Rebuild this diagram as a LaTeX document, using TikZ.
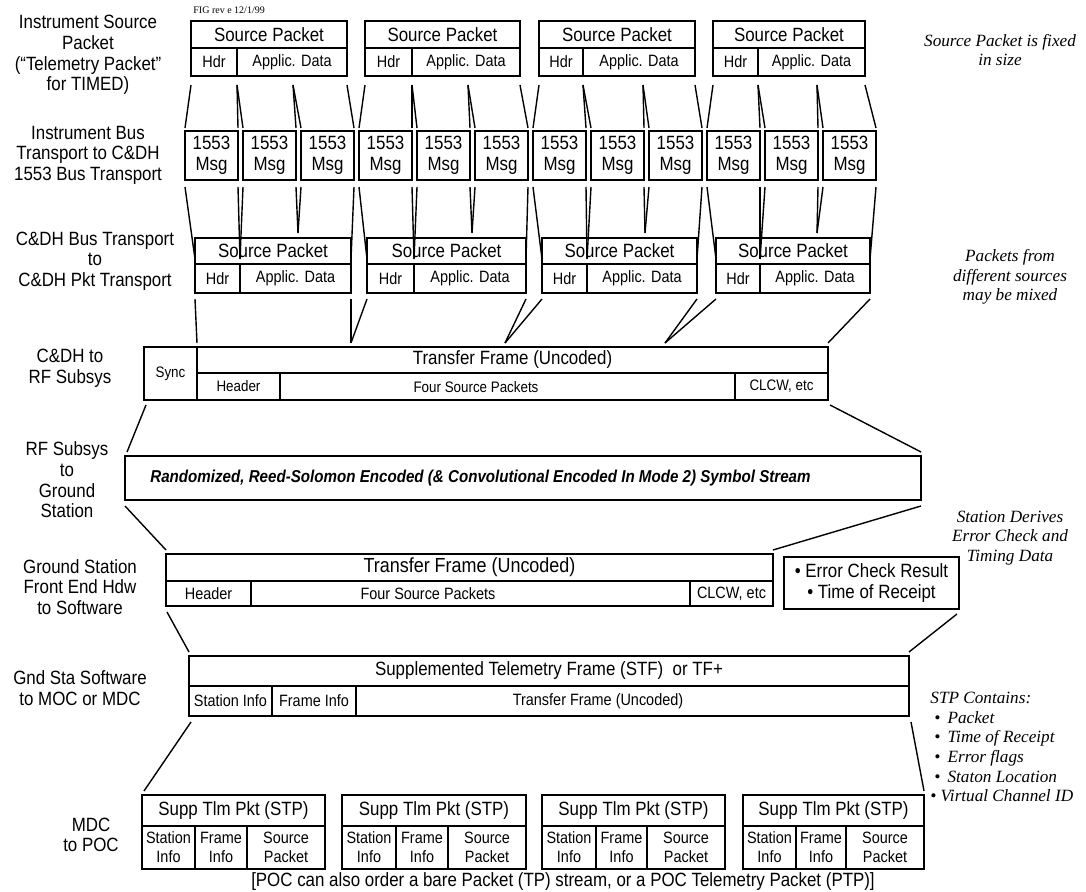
\documentclass[tikz,border=0pt]{standalone}
\usepackage{fontspec}
\setmainfont{Liberation Sans}[FakeStretch=0.88]
\newfontfamily\notefont{Liberation Serif}
\usetikzlibrary{calc}
\newcommand\szA{\fontsize{9.6}{10.3}\selectfont}
\newcommand\szAB{\fontsize{10.2}{11}\selectfont}
\newcommand\szB{\fontsize{8.2}{9.5}\selectfont}
\newcommand\szC{\fontsize{7.6}{8.5}\selectfont}
\newcommand\szS{\fontsize{8.6}{9.5}\selectfont\bfseries\itshape}
\newcommand\szN{\fontsize{8.6}{9.8}\selectfont\notefont\itshape}
\newcommand\mkcell[7][]{%
  \pgfmathsetmacro\cw{(#5-#3)*0.5}%
  \pgfmathsetmacro\ch{(#6-#4)*0.5}%
  \node[box,minimum width=\cw pt,minimum height=\ch pt,#1] (#2) at ({(#3+#5)/2},{(#4+#6)/2}) {#7};}
\begin{document}
\begin{tikzpicture}[x=0.5pt,y=-0.5pt,
  box/.style={draw,line width=0.8pt,inner sep=0pt,outer sep=0pt,align=center},
  lnk/.style={line width=0.7pt},
  lab/.style={align=center,inner sep=0pt,font=\szA},
  txt/.style={inner sep=0pt},
  note/.style={align=center,inner sep=0pt,font=\szN}]
\useasboundingbox (0,0) rectangle (1086,892);

% ---------- left labels ----------
\node[lab] (l1) at (88,55) {Instrument Source\\Packet\\(“Telemetry Packet”\\for TIMED)};
\node[lab] (l2) at (88,155) {Instrument Bus\\Transport to C\&DH\\1553 Bus Transport};
\node[lab] (l3) at (95,261) {C\&DH Bus Transport\\to\\C\&DH Pkt Transport};
\node[lab] (l4) at (70,368) {C\&DH to\\RF Subsys};
\node[lab] (l5) at (67,480) {RF Subsys\\to\\Ground\\Station};
\node[lab] (l6) at (80,587) {Ground Station\\Front End Hdw\\to Software};
\node[lab] (l7) at (80,688) {Gnd Sta Software\\to MOC or MDC};
\node[lab] (l8) at (91,835) {MDC\\to POC};

% ---------- right notes ----------
\node[note] (n1) at (1000,50) {Source Packet is fixed\\in size};
\node[note] (n2) at (1010,277) {Packets from\\different sources\\may be mixed};
\node[note] (n3) at (1010,538) {Station Derives\\Error Check and\\Timing Data};
\node[note,align=left,anchor=north west] (n4) at (930,692)
  {STP Contains:\\\hspace*{2pt}• \,Packet\\\hspace*{2pt}• \,Time of Receipt\\\hspace*{2pt}• \,Error flags\\\hspace*{2pt}• \,Staton Location\\• Virtual Channel ID};
\node[anchor=base west,inner sep=0pt] (fig) at (193,14) {\fontsize{5}{5}\selectfont\notefont FIG rev e 12/1/99};

% ---------- row 1: source packets ----------
\foreach \a/\b/\d/\s [count=\j from 0] in {191/347/237/293, 365/520/412/468, 539/695/583/643, 713/865/758/817}{
  \mkcell{pA\j}{\a}{21}{\b}{48}{\szA Source Packet}
  \mkcell{pAh\j}{\a}{48}{\d}{76}{\szB Hdr}
  \mkcell{pAd\j}{\d}{48}{\b}{76}{\szB Applic. Data}
  \coordinate (pAs\j) at (\s,76);
}

% ---------- row 2: 1553 messages ----------
\foreach \k in {0,...,11}{
  \pgfmathsetmacro\mL{185+58*\k}
  \pgfmathsetmacro\mR{238+58*\k}
  \mkcell[font=\szA]{m\k}{\mL}{131}{\mR}{180}{1553\\Msg}
}

% ---------- row 3: source packets ----------
\foreach \a/\b/\d/\s [count=\j from 0] in {195/351/240/298, 367/526/414/472, 542/697/587/645, 716/870/760/817}{
  \mkcell{pC\j}{\a}{238}{\b}{264}{\szA Source Packet}
  \mkcell{pCh\j}{\a}{264}{\d}{293}{\szB Hdr}
  \mkcell{pCd\j}{\d}{264}{\b}{293}{\szB Applic. Data}
  \coordinate (pCs\j) at (\s,238);
}

% connectors rows 1-2-3
\foreach \j in {0,...,3}{
  \pgfmathtruncatemacro\ka{3*\j}
  \pgfmathtruncatemacro\kb{3*\j+1}
  \pgfmathtruncatemacro\kc{3*\j+2}
  \draw[lnk] ($(pAh\j.south west)+(0,9)$) -- ($(m\ka.north west)+(0,-3)$);
  \draw[lnk] ($(pAh\j.south east)+(0,9)$) -- ($(m\ka.north east)+(0,-3)$);
  \draw[lnk] ($(pAh\j.south east)+(0,9)$) -- ($(m\kb.north west)+(0,-3)$);
  \draw[lnk] ($(pAs\j)+(0,9)$) -- ($(m\kb.north east)+(0,-3)$);
  \draw[lnk] ($(pAs\j)+(0,9)$) -- ($(m\kc.north west)+(0,-3)$);
  \draw[lnk] ($(pAd\j.south east)+(0,9)$) -- ($(m\kc.north east)+(0,-3)$);
  \draw[lnk] ($(m\ka.south west)+(0,7)$) -- ($(pCh\j.north west)+(0,-5)$);
  \draw[lnk] ($(m\ka.south east)+(0,7)$) -- ($(pCh\j.north east)+(0,-5)$);
  \draw[lnk] ($(m\kb.south west)+(0,7)$) -- ($(pCh\j.north east)+(0,-5)$);
  \draw[lnk] ($(m\kb.south east)+(0,7)$) -- ($(pCs\j)+(0,-5)$);
  \draw[lnk] ($(m\kc.south west)+(0,7)$) -- ($(pCs\j)+(0,-5)$);
  \draw[lnk] ($(m\kc.south east)+(0,7)$) -- ($(pCd\j.north east)+(0,-5)$);
}

% ---------- transfer frame (C&DH to RF) ----------
\mkcell{sync}{144}{347}{197}{400}{\szC Sync}
\mkcell{tf}{197}{347}{828}{373}{\szA Transfer Frame (Uncoded)}
\mkcell{tfh}{197}{373}{280}{400}{\szC Header}
\mkcell{tfd}{280}{373}{735}{400}{}
\node[txt,font=\szC] (tfdt) at (476,387) {Four Source Packets};
\mkcell{tfc}{735}{373}{828}{400}{\szC CLCW, etc}
\coordinate (tfm1) at (351,347);
\coordinate (tfm2) at (505,347);
\coordinate (tfm3) at (665,347);
\draw[lnk] ($(pCh0.south west)+(0,6)$) -- ($(tf.north west)+(0,-4)$);
\draw[lnk] ($(pCd0.south east)+(0,6)$) -- ($(tfm1)+(0,-4)$);
\draw[lnk] ($(pCh1.south west)+(0,6)$) -- ($(tfm1)+(0,-4)$);
\draw[lnk] ($(pCd1.south east)+(0,6)$) -- ($(tfm2)+(0,-4)$);
\draw[lnk] ($(pCh2.south west)+(0,6)$) -- ($(tfm2)+(0,-4)$);
\draw[lnk] ($(pCd2.south east)+(0,6)$) -- ($(tfm3)+(0,-4)$);
\draw[lnk] ($(pCh3.south west)+(0,6)$) -- ($(tfm3)+(0,-4)$);
\draw[lnk] ($(pCd3.south east)+(0,6)$) -- ($(tf.north east)+(0,-4)$);

% ---------- symbol stream ----------
\mkcell{rs}{125}{456}{921}{500}{}
\node[anchor=west,inner sep=0pt,font=\szS] (rst) at (150,478) {Randomized, Reed-Solomon Encoded (\& Convolutional Encoded In Mode 2) Symbol Stream};
\draw[lnk] ($(sync.south west)+(2,5)$) -- ($(rs.north west)+(2,-4)$);
\draw[lnk] ($(tfc.south east)+(2,5)$) -- ($(rs.north east)+(0,-4)$);

% ---------- ground station frame ----------
\mkcell{gtf}{166}{554}{773}{581}{\szAB Transfer Frame (Uncoded)}
\mkcell{gh}{166}{581}{251}{606}{\szB Header}
\mkcell{gd}{251}{581}{690}{606}{}
\node[txt,font=\szB] (gdt) at (428,594) {Four Source Packets};
\mkcell{gc}{690}{581}{773}{606}{\szB CLCW, etc}
\mkcell[font=\szA]{ecr}{784}{557}{959}{609}{• Error Check Result\\• Time of Receipt}
\draw[lnk] ($(rs.south west)+(0,6)$) -- ($(gtf.north west)+(0,-4)$);
\draw[lnk] ($(rs.south east)+(0,6)$) -- ($(gtf.north east)+(0,-4)$);

% ---------- supplemented telemetry frame ----------
\mkcell{stf}{189}{656}{909}{686}{\szA Supplemented Telemetry Frame (STF)\ \ or TF+}
\mkcell{sti}{189}{686}{272}{716}{\szB Station Info}
\mkcell{sfi}{272}{686}{356}{716}{\szB Frame Info}
\mkcell{stt}{356}{686}{909}{716}{}
\node[txt,font=\szB] (sttt) at (598,701) {Transfer Frame (Uncoded)};
\draw[lnk] ($(gh.south west)+(1,6)$) -- ($(stf.north west)+(0,-4)$);
\draw[lnk] ($(ecr.south east)+(-2,5)$) -- ($(stf.north east)+(0,-4)$);

% ---------- supplemented telemetry packets ----------
\foreach \a/\b/\d/\e [count=\j from 0] in {142/325/195/247, 342/526/396/448, 542/725/596/647, 743/924/796/846}{
  \mkcell{stp\j}{\a}{795}{\b}{826}{\szA Supp Tlm Pkt (STP)}
  \mkcell[font=\szB]{stpa\j}{\a}{826}{\d}{869}{Station\\Info}
  \mkcell[font=\szB]{stpb\j}{\d}{826}{\e}{869}{Frame\\Info}
  \mkcell[font=\szB]{stpc\j}{\e}{826}{\b}{869}{Source\\Packet}
}
\draw[lnk] ($(sti.south west)+(2,6)$) -- ($(stp0.north west)+(2,-4)$);
\draw[lnk] ($(stt.south east)+(2,6)$) -- ($(stp3.north east)+(0,-4)$);

\node[inner sep=0pt,font=\szA] (foot) at (563,882) {[POC can also order a bare Packet (TP) stream, or a POC Telemetry Packet (PTP)]};
\end{tikzpicture}
\end{document}
